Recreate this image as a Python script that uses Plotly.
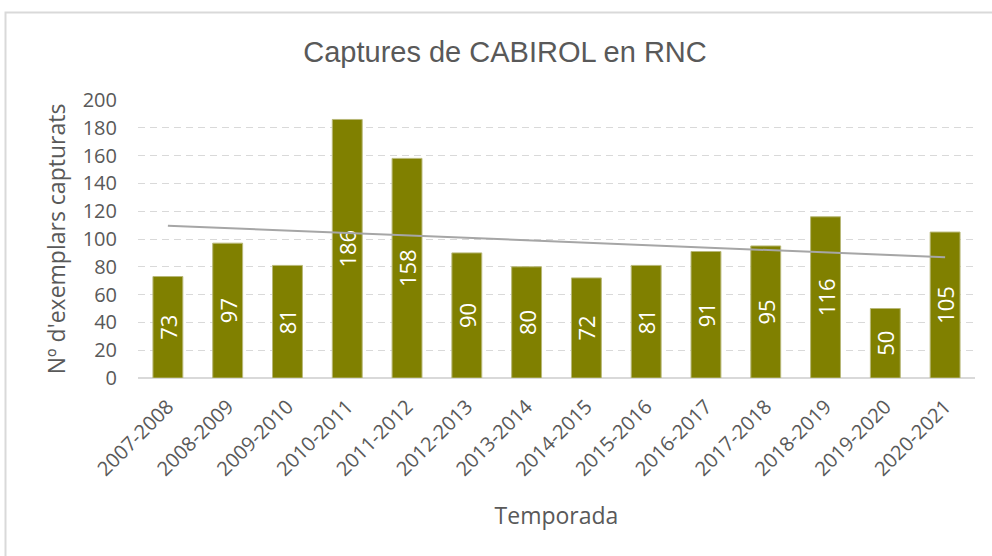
import numpy as np
import plotly.graph_objects as go

temporades = ["2007-2008", "2008-2009", "2009-2010", "2010-2011", "2011-2012",
              "2012-2013", "2013-2014", "2014-2015", "2015-2016", "2016-2017",
              "2017-2018", "2018-2019", "2019-2020", "2020-2021"]
captures = [73, 97, 81, 186, 158, 90, 80, 72, 81, 91, 95, 116, 50, 105]

# linear trend line (Excel-style) computed from the data
xi = np.arange(1, len(captures) + 1)
slope, intercept = np.polyfit(xi, captures, 1)
trend = slope * xi + intercept

W, H = 992, 556
L, R, T, B = 138, 17, 100, 178
pw, ph = W - L - R, H - T - B
GREY = "#595959"
FONT = "Open Sans"

fig = go.Figure()
fig.add_trace(go.Bar(
    x=temporades, y=captures,
    marker=dict(color="#808000", line=dict(color="#b8b878", width=1)),
    text=[str(v) for v in captures],
    textposition="inside", insidetextanchor="middle", textangle=-90,
    constraintext="none",
    textfont=dict(color="white", size=22, family=FONT),
    cliponaxis=False, showlegend=False,
))
fig.add_trace(go.Scatter(
    x=temporades, y=trend, mode="lines",
    line=dict(color="#a6a6a6", width=2), showlegend=False, hoverinfo="skip",
))

# outer chart frame
fig.add_shape(type="rect", xref="paper", yref="paper",
              x0=(5.5 - L) / pw, x1=(W + 10 - L) / pw,
              y0=(T + ph - (H + 10)) / ph, y1=(T + ph - 12.5) / ph,
              line=dict(color="#d9d9d9", width=2), fillcolor="rgba(0,0,0,0)", layer="below")

fig.update_layout(
    width=W, height=H,
    margin=dict(l=L, r=R, t=T, b=B, autoexpand=False),
    paper_bgcolor="white", plot_bgcolor="white",
    bargap=0.5,
    title=dict(text="Captures de CABIROL en RNC", x=505 / W, xanchor="center",
               y=1 - 52 / H, yanchor="middle",
               font=dict(family="Liberation Sans, Arial", size=29, color=GREY)),
    font=dict(family=FONT, color=GREY),
)
fig.update_xaxes(
    tickangle=-45, tickfont=dict(size=20, color=GREY, family=FONT),
    ticklabelstandoff=12,
    title=dict(text="Temporada", font=dict(size=23, color=GREY, family=FONT), standoff=27),
    showline=False, showgrid=False, ticks="",
)
fig.update_yaxes(
    range=[0, 200], dtick=20,
    tickfont=dict(size=20, color=GREY, family=FONT),
    title=dict(text="Nº d'exemplars capturats", font=dict(size=23, color=GREY, family=FONT), standoff=10),
    showgrid=True, gridcolor="#d9d9d9", gridwidth=1, griddash="7px,5px",
    zeroline=True, zerolinecolor="#d9d9d9", zerolinewidth=2,
    ticks="", ticklabelstandoff=20,
)

fig.write_html("out.html", config={"displayModeBar": False},
               post_script="document.body.style.margin='0';document.body.style.overflow='hidden';")
